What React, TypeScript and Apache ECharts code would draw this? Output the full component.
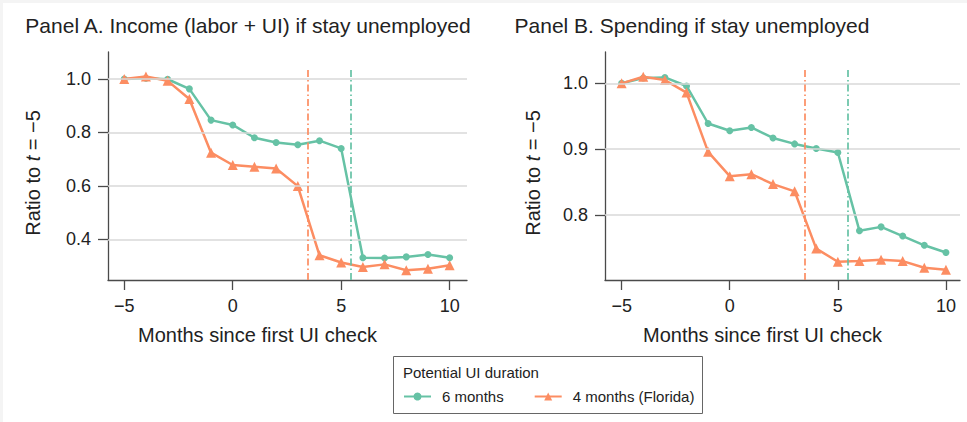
import React, { useEffect, useRef } from "react";
import * as echarts from "echarts";

// ---- data ----
const months = [-5, -4, -3, -2, -1, 0, 1, 2, 3, 4, 5, 6, 7, 8, 9, 10];
const incomeSixMonths = [1.0, 1.003, 0.999, 0.963, 0.846, 0.828, 0.78, 0.762, 0.754, 0.769, 0.74, 0.331, 0.33, 0.334, 0.343, 0.331];
const incomeFlorida = [1.0, 1.009, 0.993, 0.925, 0.724, 0.678, 0.671, 0.665, 0.599, 0.34, 0.313, 0.296, 0.306, 0.284, 0.29, 0.303];
const spendSixMonths = [1.0, 1.008, 1.009, 0.996, 0.939, 0.928, 0.933, 0.917, 0.908, 0.901, 0.895, 0.776, 0.782, 0.768, 0.754, 0.743];
const spendFlorida = [1.0, 1.01, 1.005, 0.986, 0.896, 0.859, 0.862, 0.847, 0.836, 0.749, 0.729, 0.73, 0.732, 0.73, 0.72, 0.717];
const xTicks = [-5, 0, 5, 10];
const yTicksIncome = [0.4, 0.6, 0.8, 1.0];
const yTicksSpend = [0.8, 0.9, 1.0];
const exhaustFlorida = 3.45;
const exhaustSix = 5.45;
const seriesNames = ["6 months", "4 months (Florida)"];
const panelTitles = ["Panel A. Income (labor + UI) if stay unemployed", "Panel B. Spending if stay unemployed"];
const xTitle = "Months since first UI check";
const legendTitle = "Potential UI duration";

const GREEN = "#66c2a5";
const ORANGE = "#fc8d62";
const FONT = "'Liberation Sans', Arial, Helvetica, sans-serif";
const AXIS = "#4a4a4a";

const fmtX = (v: number) => (v < 0 ? "\u2212" + Math.abs(v) : String(v));

export default function App() {
  const ref = useRef<HTMLDivElement>(null);
  useEffect(() => {
    if (!ref.current) return;
    const chart = echarts.init(ref.current, undefined, { renderer: "svg" });

    const pairs = (arr: number[]) => months.map((m, i) => [m, arr[i]]);

    const xAxisBase = (min: number, max: number, idx: number, shift: number) => ({
      type: "value",
      gridIndex: idx,
      min,
      max,
      name: xTitle,
      nameLocation: "middle",
      nameGap: 45,
      nameTextStyle: { fontSize: 20, color: "#222", fontFamily: FONT, padding: [0, shift, 0, 0] },
      axisLine: { show: true, onZero: false, lineStyle: { color: AXIS, width: 1.3 } },
      axisTick: { show: true, length: 10, customValues: xTicks, lineStyle: { color: AXIS, width: 1.3 } },
      axisLabel: { customValues: xTicks, formatter: fmtX, fontSize: 18, color: "#222", fontFamily: FONT, margin: 17 },
      splitLine: { show: false },
    });

    const yAxisBase = (min: number, max: number, idx: number, ticks: number[], gap: number) => ({
      type: "value",
      gridIndex: idx,
      min,
      max,
      name: "Ratio to {i|t} = \u22125",
      nameLocation: "middle",
      nameGap: gap,
      nameTextStyle: {
        fontSize: 20,
        color: "#222",
        fontFamily: FONT,
        padding: [0, 14, 0, 0],
        rich: { i: { fontStyle: "italic", fontSize: 20, fontFamily: FONT, color: "#222" } },
      },
      axisLine: { show: true, onZero: false, lineStyle: { color: AXIS, width: 1.3 } },
      axisTick: { show: true, length: 10, customValues: ticks, lineStyle: { color: AXIS, width: 1.3 } },
      axisLabel: { customValues: ticks, formatter: (v: number) => v.toFixed(1), fontSize: 18, color: "#222", fontFamily: FONT, margin: 17 },
      splitLine: { show: false },
    });

    const guideSeries = (idx: number, ticks: number[], yMin: number, vTop: number) => ({
      type: "line",
      xAxisIndex: idx,
      yAxisIndex: idx,
      data: [],
      z: 1,
      silent: true,
      markLine: {
        silent: true,
        symbol: "none",
        label: { show: false },
        data: [
          ...ticks.map((t) => ({ yAxis: t, lineStyle: { color: "#d8d8d8", width: 1.6, type: "solid" } })),
          [
            { coord: [exhaustFlorida, yMin], lineStyle: { color: ORANGE, width: 1.7, type: [7, 3, 1.5, 3] } },
            { coord: [exhaustFlorida, vTop] },
          ],
          [
            { coord: [exhaustSix, yMin], lineStyle: { color: GREEN, width: 1.7, type: [7, 3, 1.5, 3] } },
            { coord: [exhaustSix, vTop] },
          ],
        ],
      },
    });

    const dataSeries = (idx: number, six: number[], fl: number[]) => [
      {
        name: seriesNames[0],
        type: "line",
        xAxisIndex: idx,
        yAxisIndex: idx,
        data: pairs(six),
        z: 3,
        symbol: "circle",
        symbolSize: 7,
        lineStyle: { color: GREEN, width: 2.5 },
        itemStyle: { color: GREEN },
      },
      {
        name: seriesNames[1],
        type: "line",
        xAxisIndex: idx,
        yAxisIndex: idx,
        data: pairs(fl),
        z: 4,
        symbol: "triangle",
        symbolSize: 10,
        lineStyle: { color: ORANGE, width: 2.5 },
        itemStyle: { color: ORANGE },
      },
    ];

    const option: any = {
      animation: false,
      backgroundColor: "#ffffff",
      textStyle: { fontFamily: FONT },
      title: [
        { text: panelTitles[0], left: 248, top: 15, textAlign: "center", padding: 0, textStyle: { fontSize: 21, fontWeight: "normal", color: "#222", fontFamily: FONT } },
        { text: panelTitles[1], left: 692, top: 15, textAlign: "center", padding: 0, textStyle: { fontSize: 21, fontWeight: "normal", color: "#222", fontFamily: FONT } },
      ],
      grid: [
        { left: 108, top: 52, width: 359, height: 228 },
        { left: 605, top: 52, width: 355, height: 228 },
      ],
      xAxis: [xAxisBase(-5.75, 10.8, 0, 60), xAxisBase(-5.77, 10.65, 1, 40)],
      yAxis: [yAxisBase(0.2475, 1.101, 0, yTicksIncome, 65), yAxisBase(0.7013, 1.0476, 1, yTicksSpend, 62)],
      legend: {
        data: seriesNames,
        left: 403,
        top: 389,
        padding: 0,
        itemWidth: 27,
        itemHeight: 10,
        itemGap: 30,
        textStyle: { fontSize: 15, color: "#222", fontFamily: FONT, padding: [0, 0, 0, 6] },
      },
      graphic: [
        { type: "rect", shape: { x: 0, y: 0, width: 967, height: 3 }, style: { fill: "#f4f4f4" }, silent: true },
        { type: "rect", shape: { x: 0, y: 0, width: 3, height: 422 }, style: { fill: "#f4f4f4" }, silent: true },
        { type: "rect", shape: { x: 393.5, y: 356.5, width: 309, height: 57 }, style: { fill: "none", stroke: "#666", lineWidth: 1 }, silent: true },
        { type: "text", x: 403, y: 365, style: { text: legendTitle, font: "15px " + FONT, fill: "#222" }, silent: true },
      ],
      series: [
        guideSeries(0, yTicksIncome, 0.2475, 1.04),
        ...dataSeries(0, incomeSixMonths, incomeFlorida),
        guideSeries(1, yTicksSpend, 0.7013, 1.023),
        ...dataSeries(1, spendSixMonths, spendFlorida),
      ],
    };
    chart.setOption(option);
    return () => chart.dispose();
  }, []);

  return <div ref={ref} style={{ position: "absolute", left: 0, top: 0, width: 967, height: 422 }} />;
}
